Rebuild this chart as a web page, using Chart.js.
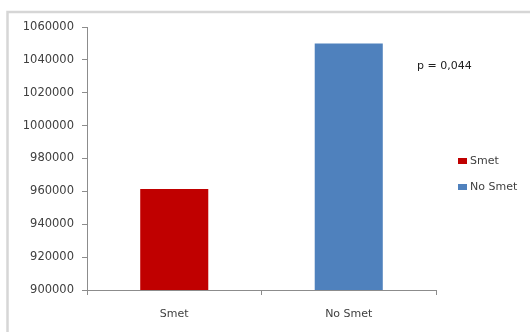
<!DOCTYPE html>
<html>
<head>
<meta charset="utf-8">
<script src="https://cdn.jsdelivr.net/npm/chart.js@4/dist/chart.umd.min.js"></script>
<style>
  html, body { margin: 0; padding: 0; background: #fff; }
  #wrap { width: 530px; height: 332px; position: relative; }
</style>
</head>
<body>
<div id="wrap"><canvas id="c" width="530" height="332"></canvas></div>
<script>
// Groups and their mean values
const categories = ['Smet', 'No Smet'];
const values = [961500, 1050000];
const barColors = ['#C00000', '#4F81BD'];
const pValueText = 'p = 0,044';

// Y axis range
const yMin = 900000;
const yMax = 1060000;
const yStep = 20000;

const FONT = 'DejaVu Sans';
const textColor = '#404040';
const axisColor = '#8c8c8c';

// White background with the light gray frame along the top and left
const framePlugin = {
  id: 'frame',
  beforeDraw(chart) {
    const ctx = chart.ctx;
    ctx.save();
    ctx.fillStyle = '#ffffff';
    ctx.fillRect(0, 0, chart.width, chart.height);
    ctx.strokeStyle = '#d6d6d6';
    ctx.lineWidth = 2.5;
    ctx.lineJoin = 'miter';
    ctx.beginPath();
    ctx.moveTo(7.5, chart.height);
    ctx.lineTo(7.5, 12);
    ctx.lineTo(chart.width, 12);
    ctx.stroke();
    ctx.restore();
  }
};

// Legend at the right, one entry per category, plus the p-value note
const sideNotes = {
  id: 'sideNotes',
  afterDraw(chart) {
    const ctx = chart.ctx;
    const ds = chart.data.datasets[0];
    ctx.save();
    ctx.font = '11px "' + FONT + '"';
    ctx.textBaseline = 'middle';
    ctx.textAlign = 'left';
    const x0 = 458, y0 = 161, gap = 26;
    chart.data.labels.forEach((lab, i) => {
      const y = y0 + i * gap;
      ctx.fillStyle = ds.backgroundColor[i];
      ctx.fillRect(x0, y - 3, 9, 6);
      ctx.fillStyle = textColor;
      ctx.fillText(lab, x0 + 12, y);
    });
    ctx.fillStyle = '#202020';
    ctx.fillText(pValueText, 417, 66);
    ctx.restore();
  }
};

new Chart(document.getElementById('c'), {
  type: 'bar',
  data: {
    labels: categories,
    datasets: [{
      data: values,
      backgroundColor: barColors,
      borderWidth: 0,
      categoryPercentage: 1,
      barPercentage: 0.39
    }]
  },
  options: {
    responsive: false,
    animation: false,
    devicePixelRatio: 1,
    layout: { padding: { left: 10, right: 94, top: 27, bottom: 0 } },
    plugins: {
      legend: { display: false },
      tooltip: { enabled: false }
    },
    scales: {
      x: {
        grid: {
          offset: true,
          drawOnChartArea: false,
          drawTicks: true,
          tickLength: 5,
          color: axisColor
        },
        border: { color: axisColor, width: 1 },
        ticks: {
          color: textColor,
          font: { family: FONT, size: 11 },
          padding: 13
        },
        afterFit(scale) { scale.height = 42; }
      },
      y: {
        min: yMin,
        max: yMax,
        grid: {
          drawOnChartArea: false,
          drawTicks: true,
          tickLength: 5,
          color: axisColor
        },
        border: { color: axisColor, width: 1 },
        ticks: {
          stepSize: yStep,
          color: textColor,
          font: { family: FONT, size: 11.5 },
          padding: 8,
          callback: v => String(v)
        },
        afterFit(scale) { scale.width = 77; }
      }
    }
  },
  plugins: [framePlugin, sideNotes]
});
</script>
</body>
</html>
